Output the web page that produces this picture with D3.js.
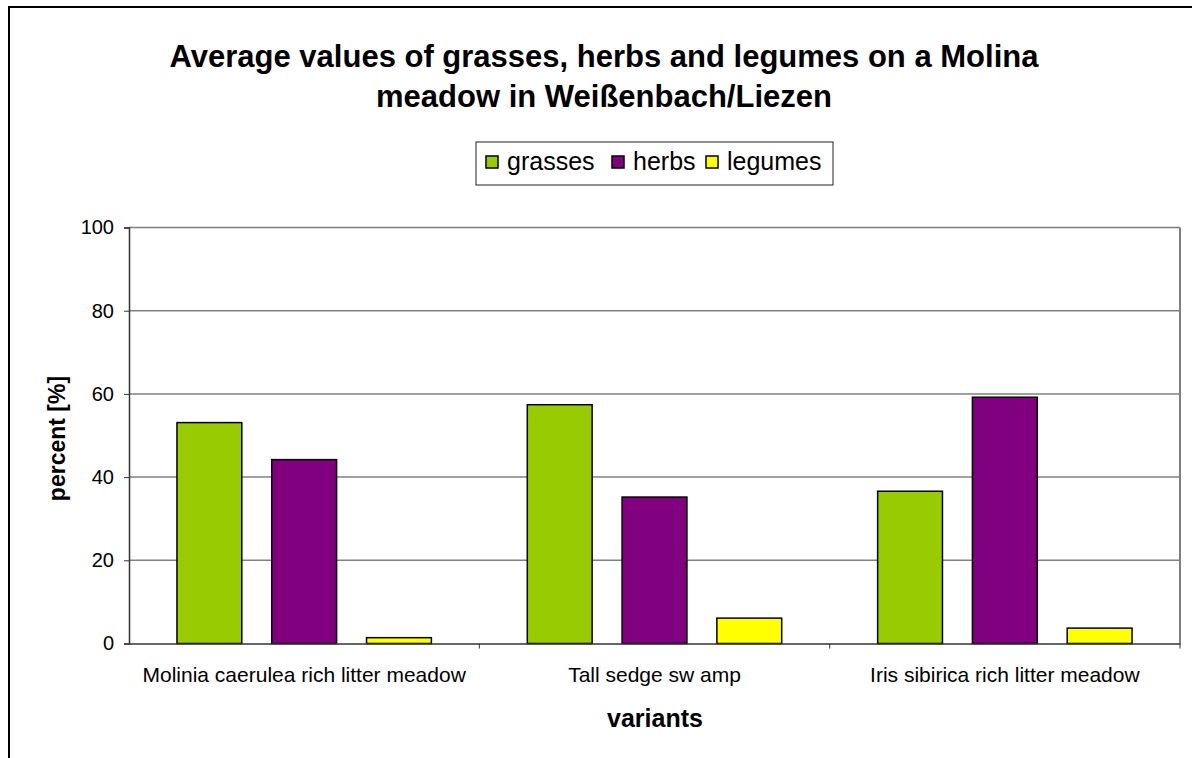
<!DOCTYPE html>
<html>
<head>
    <script src="https://cdnjs.cloudflare.com/ajax/libs/d3/7.8.5/d3.min.js"></script>
    <style>
        body, html {
            margin: 0;
            padding: 0;
            width: 100%;
            height: 100%;
            overflow: hidden;
            background: #fff;
        }
        svg {
            display: block;
            font-family: "Liberation Sans", Arial, sans-serif;
        }
    </style>
</head>
<body>
    <svg></svg>
    <script>
        // chart data
        const categories = ["Molinia caerulea rich litter meadow", "Tall sedge sw amp", "Iris sibirica rich litter meadow"];
        const seriesNames = ["grasses", "herbs", "legumes"];
        const seriesColors = ["#99cc00", "#800080", "#ffff00"];
        const grasses = [53.1, 57.4, 36.6];
        const herbs = [44.2, 35.2, 59.2];
        const legumes = [1.4, 6.1, 3.7];
        const yTicks = [0, 20, 40, 60, 80, 100];

        const width = 1192;
        const height = 758;
        const plot = { left: 129, right: 1180, top: 227.5, bottom: 643.5 };
        const font = "'Liberation Sans', Arial, sans-serif";

        const svg = d3.select("svg")
            .attr("width", width)
            .attr("height", height);

        // outer chart frame (top and left edges visible)
        svg.append("path")
            .attr("d", `M9,${height} L9,7 L${width},7`)
            .attr("fill", "none")
            .attr("stroke", "#000")
            .attr("stroke-width", 2);

        // title
        const title = svg.append("text")
            .attr("text-anchor", "middle")
            .attr("font-size", 31)
            .attr("font-weight", "bold");
        title.append("tspan").attr("x", 604).attr("y", 67)
            .text("Average values of grasses, herbs and legumes on a Molina");
        title.append("tspan").attr("x", 604).attr("y", 107)
            .text("meadow in Weißenbach/Liezen");

        const x0 = d3.scaleBand()
            .domain(categories)
            .range([plot.left, plot.right]);

        const x1 = d3.scaleBand()
            .domain(seriesNames)
            .range([0, x0.bandwidth()])
            .paddingInner(0.316)
            .paddingOuter(0.506);

        const y = d3.scaleLinear()
            .domain([0, 100])
            .range([plot.bottom, plot.top]);

        // gridlines
        svg.append("g")
            .selectAll("line")
            .data(yTicks.filter(d => d > 0))
            .join("line")
            .attr("x1", plot.left)
            .attr("x2", plot.right)
            .attr("y1", d => y(d))
            .attr("y2", d => y(d))
            .attr("stroke", "#808080")
            .attr("stroke-width", 1.5);

        // right border of plot
        svg.append("line")
            .attr("x1", plot.right).attr("x2", plot.right)
            .attr("y1", plot.top).attr("y2", plot.bottom)
            .attr("stroke", "#808080")
            .attr("stroke-width", 2);

        // bars
        const seriesValues = [grasses, herbs, legumes];
        const rows = categories.map((c, i) => ({
            cat: c,
            vals: seriesNames.map((s, j) => ({ key: s, value: seriesValues[j][i], color: seriesColors[j] }))
        }));

        svg.append("g")
            .selectAll("g")
            .data(rows)
            .join("g")
            .attr("transform", d => `translate(${x0(d.cat)},0)`)
            .selectAll("rect")
            .data(d => d.vals)
            .join("rect")
            .attr("x", d => x1(d.key))
            .attr("y", d => y(d.value))
            .attr("width", x1.bandwidth())
            .attr("height", d => y(0) - y(d.value))
            .attr("fill", d => d.color)
            .attr("stroke", "#000")
            .attr("stroke-width", 1.5);

        // y axis
        const yAxis = svg.append("g")
            .attr("transform", `translate(${plot.left},0)`)
            .call(d3.axisLeft(y).tickValues(yTicks).tickSize(5).tickPadding(10));
        yAxis.select(".domain").attr("stroke", "#333").attr("stroke-width", 1.5);
        yAxis.selectAll(".tick line").attr("stroke", "#333");
        yAxis.selectAll("text")
            .attr("font-size", 20)
            .attr("font-family", font)
            .attr("fill", "#000");

        // x axis
        const xAxis = svg.append("g")
            .attr("transform", `translate(0,${plot.bottom})`)
            .call(d3.axisBottom(x0).tickSize(0).tickPadding(24));
        xAxis.select(".domain").attr("stroke", "#333").attr("stroke-width", 1.5);
        xAxis.selectAll("text")
            .attr("font-size", 21)
            .attr("font-family", font)
            .attr("fill", "#000");

        // category separator ticks
        svg.append("g")
            .selectAll("line")
            .data(categories)
            .join("line")
            .attr("x1", d => x0(d) + x0.bandwidth())
            .attr("x2", d => x0(d) + x0.bandwidth())
            .attr("y1", plot.bottom)
            .attr("y2", plot.bottom + 5)
            .attr("stroke", "#333");

        // axis titles
        svg.append("text")
            .attr("x", 655)
            .attr("y", 727)
            .attr("text-anchor", "middle")
            .attr("font-size", 25)
            .attr("font-weight", "bold")
            .text("variants");

        svg.append("text")
            .attr("transform", `translate(65,${(plot.top + plot.bottom) / 2 + 3}) rotate(-90)`)
            .attr("text-anchor", "middle")
            .attr("font-size", 23)
            .attr("font-weight", "bold")
            .text("percent [%]");

        // legend
        const legend = svg.append("g").attr("transform", "translate(476,142)");
        legend.append("rect")
            .attr("width", 357)
            .attr("height", 43)
            .attr("fill", "#fff")
            .attr("stroke", "#222")
            .attr("stroke-width", 1);

        const legendX = [10, 136, 230];
        const item = legend.selectAll("g.item")
            .data(seriesNames)
            .join("g")
            .attr("class", "item")
            .attr("transform", (d, i) => `translate(${legendX[i]},14)`);
        item.append("rect")
            .attr("width", 12)
            .attr("height", 12)
            .attr("fill", (d, i) => seriesColors[i])
            .attr("stroke", "#000")
            .attr("stroke-width", 1.5);
        item.append("text")
            .attr("x", 21)
            .attr("y", 14)
            .attr("font-size", 25)
            .text(d => d);
    </script>
</body>
</html>
